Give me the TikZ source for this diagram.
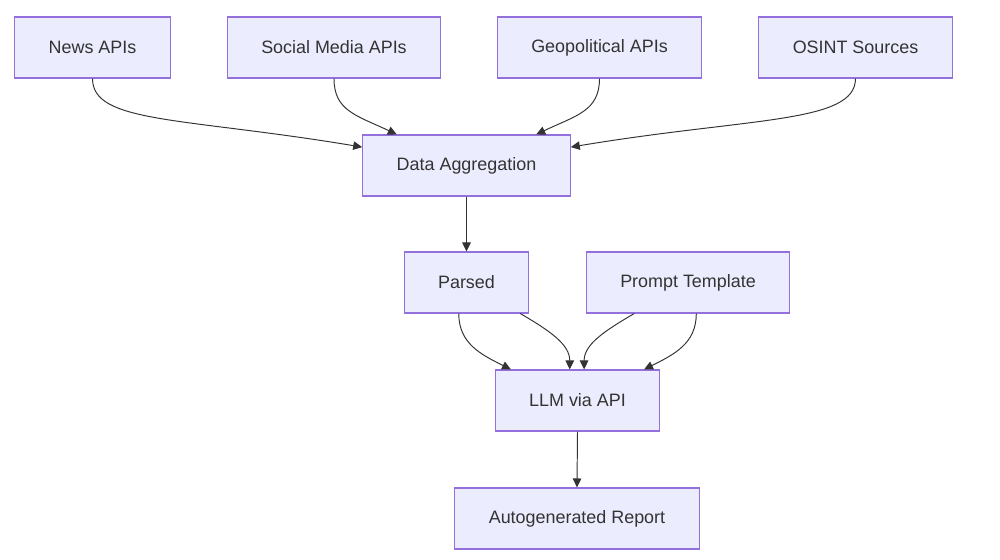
\documentclass[tikz,border=0pt]{standalone}
\usepackage{fontspec}
\setmainfont{Liberation Sans}
\usepackage{xcolor}
\usepackage{tikz}
\usetikzlibrary{positioning, calc, arrows.meta}

\definecolor{boxfill}{HTML}{ECECFF}
\definecolor{boxline}{HTML}{9370DB}
\definecolor{edgeline}{HTML}{333333}

\begin{document}
\begin{tikzpicture}

		\tikzstyle{box}=[rectangle, draw=boxline, fill=boxfill, line width=0.6pt, minimum height=1.22cm, inner xsep=0.68cm, text=edgeline, font=\fontsize{10.2}{12}\selectfont]
		\tikzstyle{edge}=[draw=edgeline, line width=0.55pt, -{Triangle[length=1.8mm, width=1.7mm]}]

		\useasboundingbox (0,0) rectangle (20,-11.2);

		\node (news) at (1.85,-0.95) [box] {News APIs};
		\node (social) at (6.68,-0.95) [box] {Social Media APIs};
		\node (geo) at (11.99,-0.95) [box] {Geopolitical APIs};
		\node (osint) at (17.11,-0.95) [box] {OSINT Sources};

		\node (agg) at (9.33,-3.31) [box] {Data Aggregation};

		\node (parsed) at (9.33,-5.65) [box] {Parsed};
		\node (prompt) at (13.76,-5.65) [box] {Prompt Template};

		\node (llm) at (11.55,-8.01) [box] {LLM via API};
		\node (report) at (11.54,-10.37) [box] {Autogenerated Report};


		\draw [edge] (news.south) .. controls +(0,-0.9) and +(-3.6,0.6) .. (agg.170);
		\draw [edge] (social.south) .. controls +(0,-0.65) and +(-0.8,0.38) .. (agg.156);
		\draw [edge] (geo.south) .. controls +(0,-0.65) and +(0.8,0.38) .. (agg.24);
		\draw [edge] (osint.south) .. controls +(0,-0.9) and +(3.6,0.6) .. (agg.10);

		\draw [edge] (agg.south) -- (parsed.north);

		\draw [edge] (parsed.-104) .. controls +(0,-0.6) and +(-0.6,0.3) .. (llm.155);
		\draw [edge] (parsed.-30) .. controls +(0.6,-0.35) and +(0,0.5) .. (llm.104);
		\draw [edge] (prompt.-150) .. controls +(-0.6,-0.35) and +(0,0.5) .. (llm.78);
		\draw [edge] (prompt.-75) .. controls +(0,-0.6) and +(0.6,0.3) .. (llm.25);

		\draw [edge] (llm.south) -- (report.north);

\end{tikzpicture}
\end{document}
